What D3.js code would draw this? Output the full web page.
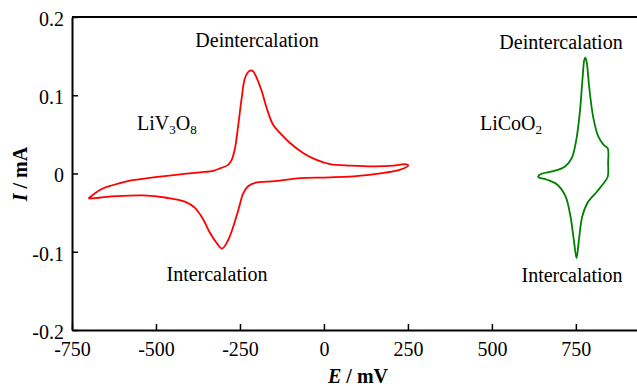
<!DOCTYPE html>
<html><head><meta charset="utf-8">
<script src="https://cdn.jsdelivr.net/npm/d3@7/dist/d3.min.js"></script>
<style>
html,body{margin:0;padding:0;background:#fff;}
text{font-family:"Liberation Serif","Times New Roman",serif;fill:#000;}
</style></head>
<body><svg id="chart" width="637" height="386"></svg>
<script>
// ---- data ----
const xTicks = [-750, -500, -250, 0, 250, 500, 750];
const xTickLabels = ["-750", "-500", "-250", "0", "250", "500", "750"];
const yTicks = [0.2, 0.1, 0, -0.1, -0.2];
const yTickLabels = ["0.2", "0.1", "0", "-0.1", "-0.2"];

// LiV3O8 cyclic voltammogram (E in mV, I in mA), traced as one closed loop
const livE = [-701, -667, -630, -587, -488, -428, -369, -329, -309, -285, -275, -265, -255, -245, -235, -222, -212, -200, -185, -170, -151, -131, -101, -61, -22, 18, 80, 150, 207, 240, 251,
              227, 128, 18, -71, -131, -170, -200, -225, -240, -255, -270, -285, -303, -319, -339, -359, -384, -414, -468, -538, -617, -670, -701];
const livI = [-0.032, -0.021, -0.015, -0.010, -0.004, -0.001, 0.0015, 0.0035, 0.0066, 0.011, 0.017, 0.032, 0.062, 0.096, 0.122, 0.131, 0.131, 0.122, 0.105, 0.083, 0.062, 0.052, 0.039, 0.026, 0.0175, 0.012, 0.010, 0.009, 0.010, 0.012, 0.0105,
              0.005, -0.002, -0.005, -0.006, -0.009, -0.0105, -0.0115, -0.016, -0.025, -0.047, -0.068, -0.085, -0.096, -0.089, -0.076, -0.059, -0.044, -0.036, -0.031, -0.028, -0.029, -0.031, -0.032];

// LiCoO2 cyclic voltammogram
const lcoE = [637, 650, 683, 718, 738, 752, 762, 770, 775, 778, 782, 790, 802, 817, 832, 845, 846, 845, 837, 813, 784, 769, 759, 752, 744, 734, 719, 694, 664, 640, 637];
const lcoI = [-0.003, 0.000, 0.003, 0.009, 0.020, 0.045, 0.079, 0.122, 0.145, 0.148, 0.143, 0.109, 0.071, 0.047, 0.037, 0.032, 0.014, -0.004, -0.010, -0.023, -0.038, -0.055, -0.085, -0.108, -0.085, -0.055, -0.029, -0.014, -0.008, -0.005, -0.003];

// ---- chart ----
const svg = d3.select("#chart");
const mLeft = 72, mRight = 637, mTop = 17, mBottom = 330;
const x = d3.scaleLinear().domain([-750, 932]).range([mLeft, mRight]);
const y = d3.scaleLinear().domain([-0.2, 0.2]).range([mBottom, mTop]);

const line = d3.line().x(d => x(d[0])).y(d => y(d[1])).curve(d3.curveCatmullRom.alpha(0.5));

svg.append("path").datum(d3.zip(livE, livI)).attr("d", line)
  .attr("fill", "none").attr("stroke", "#ff0000").attr("stroke-width", 1.8).attr("stroke-linejoin", "round");
svg.append("path").datum(d3.zip(lcoE, lcoI)).attr("d", line)
  .attr("fill", "none").attr("stroke", "#008000").attr("stroke-width", 1.8).attr("stroke-linejoin", "round");

// top frame line
svg.append("line").attr("x1", mLeft).attr("x2", mRight).attr("y1", mTop).attr("y2", mTop)
  .attr("stroke", "#000").attr("stroke-width", 2);

const FONT = "'Liberation Serif', 'Times New Roman', serif";

// x axis
const xAxis = d3.axisBottom(x).tickValues(xTicks).tickFormat((d, i) => xTickLabels[i])
  .tickSizeInner(-6).tickSizeOuter(0).tickPadding(12);
const gx = svg.append("g").attr("transform", `translate(0,${mBottom})`).call(xAxis)
  .attr("font-family", FONT).attr("font-size", 20);
gx.select(".domain").attr("stroke-width", 2);
gx.selectAll(".tick line").attr("stroke-width", 1.5);
gx.selectAll("text").attr("fill", "#000");

// y axis
const yAxis = d3.axisLeft(y).tickValues(yTicks).tickFormat((d, i) => yTickLabels[i])
  .tickSizeInner(-6).tickSizeOuter(0).tickPadding(8);
const gy = svg.append("g").attr("transform", `translate(${mLeft},0)`).call(yAxis)
  .attr("font-family", FONT).attr("font-size", 20);
gy.select(".domain").attr("stroke-width", 2);
gy.selectAll(".tick line").attr("stroke-width", 1.5);
gy.selectAll("text").attr("fill", "#000").attr("dy", "0.42em");

// axis titles
const xt = svg.append("text").attr("x", 358).attr("y", 383).attr("text-anchor", "middle")
  .style("font-size", "20px").style("font-weight", "bold");
xt.append("tspan").style("font-style", "italic").text("E");
xt.append("tspan").text(" / mV");

const yt = svg.append("text").attr("transform", "translate(27,174) rotate(-90)").attr("text-anchor", "middle")
  .style("font-size", "20px").style("font-weight", "bold");
yt.append("tspan").style("font-style", "italic").text("I");
yt.append("tspan").text(" / mA");

// annotations
function ann(xp, yp, txt) {
  return svg.append("text").attr("x", xp).attr("y", yp).attr("text-anchor", "middle")
    .style("font-size", "20px").text(txt);
}
ann(257, 47, "Deintercalation");
ann(561, 49, "Deintercalation");
ann(217, 281, "Intercalation");
ann(572, 282, "Intercalation");

const t1 = svg.append("text").attr("x", 137).attr("y", 130).style("font-size", "20px");
t1.append("tspan").text("LiV");
t1.append("tspan").attr("dy", 4).style("font-size", "13px").text("3");
t1.append("tspan").attr("dy", -4).text("O");
t1.append("tspan").attr("dy", 4).style("font-size", "13px").text("8");

const t2 = svg.append("text").attr("x", 480).attr("y", 130).style("font-size", "20px");
t2.append("tspan").text("LiCoO");
t2.append("tspan").attr("dy", 4).style("font-size", "13px").text("2");
</script></body></html>
